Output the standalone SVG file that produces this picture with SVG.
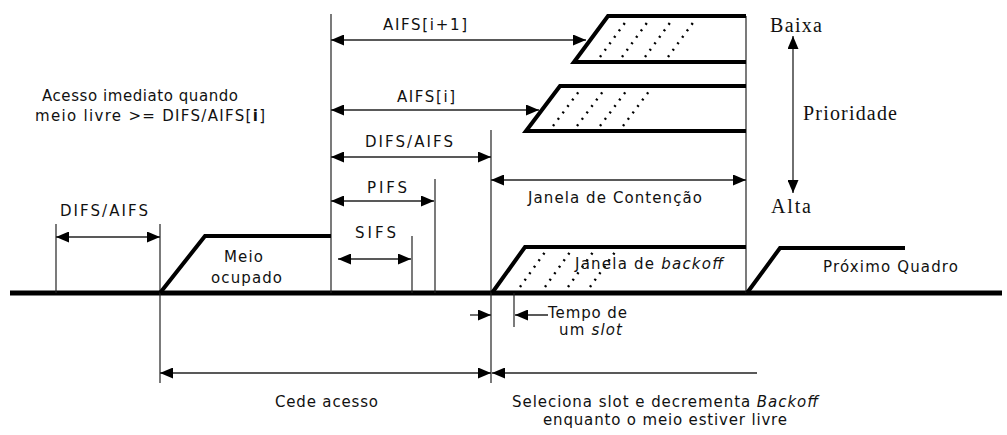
<svg xmlns="http://www.w3.org/2000/svg" width="1007" height="435" viewBox="0 0 1007 435">
<style>
.t{font-family:"DejaVu Sans","Verdana",sans-serif;font-size:15px;fill:#111}
.s{font-family:"Liberation Serif","Times New Roman",serif;font-size:20px;fill:#111}
.thin{stroke:#222;stroke-width:1.2;fill:none}
.arr{stroke:#222;stroke-width:1.3;fill:none}
.thick{stroke:#000;stroke-width:4;fill:none;stroke-linejoin:miter}
.dot{stroke:#000;stroke-width:2.4;stroke-dasharray:2 6;fill:none}
</style>
<defs>
<marker id="ah" viewBox="0 0 13 11" refX="13" refY="5.5" markerWidth="13" markerHeight="11" markerUnits="userSpaceOnUse" orient="auto-start-reverse">
<path d="M0,0 L13,5.5 L0,11 z" fill="#000"/>
</marker>
</defs>

<g id="timeline">
<line x1="10" y1="293" x2="1002" y2="293" stroke="#000" stroke-width="5"/>
</g>

<g id="guides">
<line class="thin" x1="56" y1="224" x2="56" y2="293"/>
<line class="thin" x1="160" y1="224" x2="160" y2="383"/>
<line class="thin" x1="331" y1="14" x2="331" y2="293"/>
<line class="thin" x1="412" y1="236" x2="412" y2="293"/>
<line class="thin" x1="435" y1="179" x2="435" y2="293"/>
<line class="thin" x1="491" y1="130" x2="491" y2="383"/>
<line class="thin" x1="514" y1="293" x2="514" y2="327"/>
<line class="thin" x1="746" y1="16" x2="746" y2="293"/>
</g>

<g id="meio-ocupado">
<polyline class="thick" points="160,293 205,236 331,236"/>
<text class="t" x="224" y="262" textLength="39" lengthAdjust="spacing">Meio</text>
<text class="t" x="211" y="283" textLength="71" lengthAdjust="spacing">ocupado</text>
</g>

<g id="frame-aifs-i1">
<polyline class="thick" points="746,16 608,16 574,62 746,62"/>
<line class="dot" x1="600" y1="57" x2="627" y2="20"/>
<line class="dot" x1="622" y1="57" x2="649" y2="20"/>
<line class="dot" x1="645" y1="57" x2="672" y2="20"/>
<line class="dot" x1="668" y1="57" x2="695" y2="20"/>
</g>

<g id="frame-aifs-i">
<polyline class="thick" points="746,86 560,86 526,131 746,131"/>
<line class="dot" x1="553" y1="126" x2="580" y2="90"/>
<line class="dot" x1="577" y1="126" x2="604" y2="90"/>
<line class="dot" x1="600" y1="126" x2="627" y2="90"/>
<line class="dot" x1="623" y1="126" x2="650" y2="90"/>
</g>

<g id="janela-backoff">
<polyline class="thick" points="492,293 525,247 746,247"/>
<line class="dot" x1="520" y1="287" x2="545" y2="252"/>
<line class="dot" x1="545" y1="287" x2="570" y2="252"/>
<line class="dot" x1="568" y1="287" x2="593" y2="252"/>
<line class="dot" x1="590" y1="287" x2="615" y2="252"/>
<text class="t" x="575" y="269" textLength="148" lengthAdjust="spacing">Janela de <tspan font-style="italic">backoff</tspan></text>
</g>

<g id="proximo-quadro">
<polyline class="thick" points="747,293 780,248 905,248"/>
<text class="t" x="823" y="272" textLength="135" lengthAdjust="spacing">Próximo Quadro</text>
</g>

<g id="connectors">
<line class="arr" x1="56" y1="237" x2="160" y2="237" marker-start="url(#ah)" marker-end="url(#ah)"/>
<line class="arr" x1="338" y1="259" x2="411" y2="259" marker-start="url(#ah)" marker-end="url(#ah)"/>
<line class="arr" x1="331" y1="201" x2="434" y2="201" marker-start="url(#ah)" marker-end="url(#ah)"/>
<line class="arr" x1="331" y1="157" x2="491" y2="157" marker-start="url(#ah)" marker-end="url(#ah)"/>
<line class="arr" x1="491" y1="180" x2="746" y2="180" marker-start="url(#ah)" marker-end="url(#ah)"/>
<line class="arr" x1="331" y1="40" x2="586" y2="40" marker-start="url(#ah)" marker-end="url(#ah)"/>
<line class="arr" x1="331" y1="110" x2="539" y2="110" marker-start="url(#ah)" marker-end="url(#ah)"/>
<line class="arr" x1="793" y1="36" x2="793" y2="193" marker-start="url(#ah)" marker-end="url(#ah)"/>
<line class="arr" x1="470" y1="315" x2="491" y2="315" marker-end="url(#ah)"/>
<line class="arr" x1="548" y1="315" x2="515" y2="315" marker-end="url(#ah)"/>
<line class="arr" x1="160" y1="373" x2="491" y2="373" marker-start="url(#ah)" marker-end="url(#ah)"/>
<line class="arr" x1="757" y1="373" x2="492" y2="373" marker-end="url(#ah)"/>
</g>

<g id="labels">
<text class="t" x="60" y="216" textLength="88" lengthAdjust="spacing">DIFS/AIFS</text>
<text class="t" x="355" y="238" textLength="41" lengthAdjust="spacing">SIFS</text>
<text class="t" x="367" y="193" textLength="40" lengthAdjust="spacing">PIFS</text>
<text class="t" x="365" y="147" textLength="88" lengthAdjust="spacing">DIFS/AIFS</text>
<text class="t" x="528" y="203" textLength="174" lengthAdjust="spacing">Janela de Contenção</text>
<text class="t" x="383" y="30" textLength="84" lengthAdjust="spacing">AIFS[i+1]</text>
<text class="t" x="397" y="102" textLength="58" lengthAdjust="spacing">AIFS[i]</text>
<text class="t" x="42" y="101" textLength="196" lengthAdjust="spacing">Acesso imediato quando</text>
<text class="t" x="35" y="121" textLength="230" lengthAdjust="spacing">meio livre &gt;= DIFS/AIFS[<tspan font-weight="bold">i</tspan>]</text>
<text class="t" x="548" y="318" textLength="79" lengthAdjust="spacing">Tempo de</text>
<text class="t" x="559" y="335" textLength="63" lengthAdjust="spacing">um <tspan font-style="italic">slot</tspan></text>
<text class="t" x="275" y="407" textLength="103" lengthAdjust="spacing">Cede acesso</text>
<text class="t" x="512" y="407" textLength="306" lengthAdjust="spacing">Seleciona slot e decrementa <tspan font-style="italic">Backoff</tspan></text>
<text class="t" x="543" y="425" textLength="244" lengthAdjust="spacing">enquanto o meio estiver livre</text>
<text class="s" x="770" y="32" textLength="52" lengthAdjust="spacing">Baixa</text>
<text class="s" x="803" y="120" textLength="94" lengthAdjust="spacing">Prioridade</text>
<text class="s" x="771" y="213" textLength="40" lengthAdjust="spacing">Alta</text>
</g>
</svg>
